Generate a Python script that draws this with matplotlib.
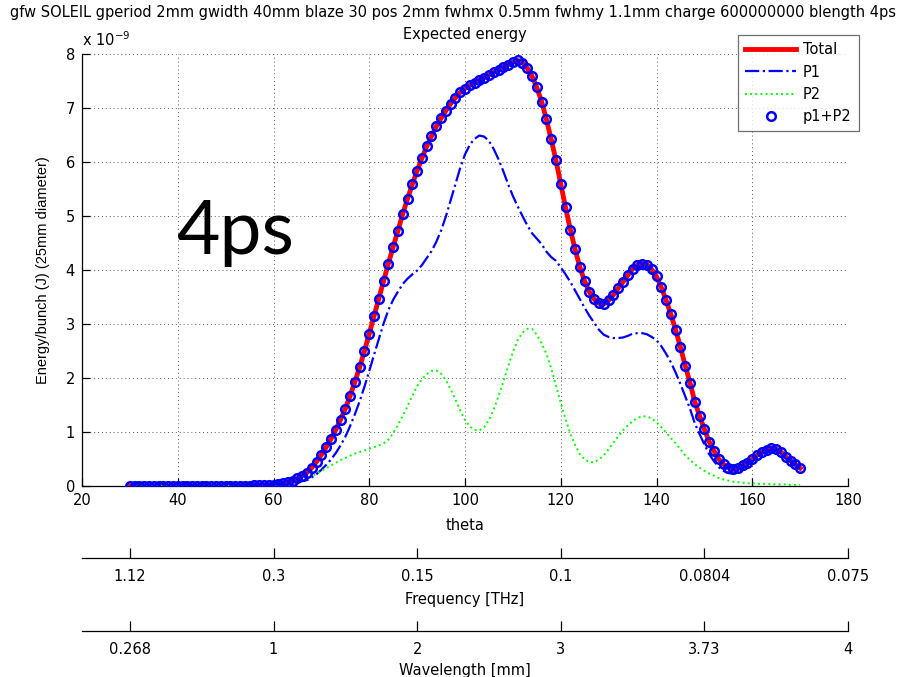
import numpy as np
import matplotlib
matplotlib.use("Agg")
import matplotlib.pyplot as plt

plt.rcParams['font.family'] = ['DejaVu Sans']

# Observation angle (degrees), one sample per degree
theta = np.arange(30, 171)

# Expected energy per bunch, in units of 1e-9 J
total = [
    0.0, 0.0, 0.0, 0.0, 0.0, 0.0, 0.0, 0.0, 0.0, 0.0,               # 30-39
    0.0, 0.0, 0.0, 0.0, 0.0, 0.0, 0.0, 0.0, 0.0, 0.0,               # 40-49
    0.002, 0.003, 0.004, 0.005, 0.006, 0.008, 0.010, 0.013, 0.016, 0.020,  # 50-59
    0.025, 0.035, 0.05, 0.07, 0.10, 0.14, 0.19, 0.25, 0.34, 0.45,   # 60-69
    0.58, 0.72, 0.87, 1.04, 1.23, 1.43, 1.67, 1.93, 2.20, 2.50,     # 70-79
    2.82, 3.15, 3.47, 3.80, 4.12, 4.43, 4.73, 5.04, 5.32, 5.59,     # 80-89
    5.84, 6.07, 6.29, 6.48, 6.66, 6.81, 6.95, 7.08, 7.19, 7.29,     # 90-99
    7.36, 7.42, 7.47, 7.52, 7.56, 7.61, 7.66, 7.71, 7.76, 7.80,     # 100-109
    7.85, 7.88, 7.84, 7.74, 7.59, 7.38, 7.12, 6.79, 6.42, 6.03,     # 110-119
    5.59, 5.16, 4.75, 4.38, 4.05, 3.79, 3.59, 3.46, 3.38, 3.37,     # 120-129
    3.44, 3.54, 3.66, 3.78, 3.90, 4.02, 4.09, 4.12, 4.10, 4.01,     # 130-139
    3.88, 3.68, 3.44, 3.18, 2.89, 2.57, 2.23, 1.91, 1.56, 1.30,     # 140-149
    1.05, 0.82, 0.65, 0.50, 0.40, 0.34, 0.31, 0.33, 0.38, 0.43,     # 150-159
    0.50, 0.57, 0.63, 0.67, 0.70, 0.69, 0.63, 0.54, 0.47, 0.40,     # 160-169
    0.33,                                                           # 170
]

p1 = [
    0.0, 0.0, 0.0, 0.0, 0.0, 0.0, 0.0, 0.0, 0.0, 0.0,
    0.0, 0.0, 0.0, 0.0, 0.0, 0.0, 0.0, 0.0, 0.0, 0.0,
    0.002, 0.003, 0.004, 0.005, 0.006, 0.008, 0.010, 0.013, 0.016, 0.020,
    0.025, 0.035, 0.04, 0.05, 0.06, 0.07, 0.09, 0.11, 0.16, 0.22,
    0.30, 0.39, 0.49, 0.61, 0.75, 0.91, 1.11, 1.33, 1.57, 1.84,
    2.13, 2.43, 2.72, 3.01, 3.26, 3.45, 3.60, 3.74, 3.84, 3.92,
    3.99, 4.09, 4.22, 4.35, 4.52, 4.73, 4.99, 5.29, 5.59, 5.89,
    6.14, 6.32, 6.43, 6.49, 6.47, 6.39, 6.24, 6.05, 5.83, 5.59,
    5.37, 5.18, 5.00, 4.83, 4.68, 4.58, 4.48, 4.34, 4.24, 4.17,
    4.05, 3.92, 3.78, 3.62, 3.46, 3.30, 3.15, 3.02, 2.89, 2.80,
    2.76, 2.74, 2.74, 2.75, 2.78, 2.82, 2.83, 2.83, 2.81, 2.76,
    2.70, 2.59, 2.45, 2.29, 2.10, 1.89, 1.66, 1.43, 1.16, 0.96,
    0.77, 0.59, 0.46, 0.35, 0.28, 0.24, 0.23, 0.26, 0.32, 0.38,
    0.45, 0.53, 0.59, 0.63, 0.67, 0.66, 0.60, 0.51, 0.45, 0.38,
    0.31,
]

p2 = [
    0.0, 0.0, 0.0, 0.0, 0.0, 0.0, 0.0, 0.0, 0.0, 0.0,
    0.0, 0.0, 0.0, 0.0, 0.0, 0.0, 0.0, 0.0, 0.0, 0.0,
    0.0, 0.0, 0.0, 0.0, 0.0, 0.0, 0.0, 0.0, 0.0, 0.0,
    0.0, 0.0, 0.01, 0.02, 0.04, 0.07, 0.10, 0.14, 0.18, 0.23,
    0.28, 0.33, 0.38, 0.43, 0.48, 0.52, 0.56, 0.60, 0.63, 0.66,
    0.69, 0.72, 0.75, 0.79, 0.86, 0.98, 1.13, 1.30, 1.48, 1.67,
    1.85, 1.98, 2.07, 2.13, 2.14, 2.08, 1.96, 1.79, 1.60, 1.40,
    1.22, 1.10, 1.04, 1.03, 1.09, 1.22, 1.42, 1.66, 1.93, 2.21,
    2.48, 2.70, 2.84, 2.91, 2.91, 2.80, 2.64, 2.45, 2.18, 1.86,
    1.54, 1.24, 0.97, 0.76, 0.59, 0.49, 0.44, 0.44, 0.49, 0.57,
    0.68, 0.80, 0.92, 1.03, 1.12, 1.20, 1.26, 1.29, 1.29, 1.25,
    1.18, 1.09, 0.99, 0.89, 0.79, 0.68, 0.57, 0.48, 0.40, 0.34,
    0.28, 0.23, 0.19, 0.15, 0.12, 0.10, 0.08, 0.07, 0.06, 0.05,
    0.05, 0.04, 0.04, 0.04, 0.03, 0.03, 0.03, 0.03, 0.02, 0.02,
    0.02,
]

scale = 1e-9
total_j = np.array(total) * scale
p1_j = np.array(p1) * scale
p2_j = np.array(p2) * scale

# Secondary scales: angle -> frequency / wavelength
sec_ticks = [30, 60, 90, 120, 150, 180]
freq_labels = ['1.12', '0.3', '0.15', '0.1', '0.0804', '0.075']
wave_labels = ['0.268', '1', '2', '3', '3.73', '4']

FS = 10.5
W, H = 904, 677
fig = plt.figure(figsize=(W / 100, H / 100), dpi=100)

L, R, T, B = 82, 848, 54, 486
ax = fig.add_axes([L / W, 1 - B / H, (R - L) / W, (B - T) / H])

ax.plot(theta, total_j, color=(1, 0, 0), lw=3.5, label='Total', zorder=3)
ax.plot(theta, p1_j, color=(0, 0, 1), lw=1.6, ls='-.', label='P1', zorder=4)
ax.plot(theta, p2_j, color=(0, 1, 0), lw=1.4, ls=':', label='P2', zorder=4)
ax.plot(theta, p1_j + p2_j, ls='none', marker='o', ms=6.2, mfc='none',
        mec=(0, 0, 1), mew=1.8, label='p1+P2', zorder=5)

ax.set_xlim(20, 180)
ax.set_ylim(0, 8e-9)
ax.set_xticks(np.arange(20, 181, 20))
ax.set_yticks(np.arange(0, 9) * 1e-9)
ax.set_yticklabels([str(i) for i in range(9)])
ax.grid(True, color='0.35', linestyle=(0, (1, 3)), linewidth=0.7)
for s in ('top', 'right'):
    ax.spines[s].set_visible(False)
for s in ('left', 'bottom'):
    ax.spines[s].set_linewidth(0.9)
ax.tick_params(direction='in', length=5.5, width=0.9, labelsize=FS, pad=5)

ax.set_xlabel('theta', fontsize=FS, labelpad=7)
ax.set_ylabel('Energy/bunch (J) (25mm diameter)', fontsize=FS, labelpad=11,
              family=['Liberation Sans', 'DejaVu Sans'])

ax.text(0.0, 1.012, r'x 10$^{\mathregular{-9}}$', transform=ax.transAxes,
        fontsize=FS, ha='left', va='bottom')

fig.text(453 / W, 1 - 13 / H,
         'gfw SOLEIL gperiod 2mm gwidth 40mm blaze 30 pos 2mm fwhmx 0.5mm '
         'fwhmy 1.1mm charge 600000000 blength 4ps',
         fontsize=FS, ha='center', va='center')
fig.text(465 / W, 1 - 35 / H, 'Expected energy', fontsize=FS,
         ha='center', va='center')

fig.text(176 / W, 1 - 254 / H, '4ps', fontsize=54,
         family=['Lato', 'DejaVu Sans'], ha='left', va='baseline', zorder=6)

leg = fig.legend(loc='upper left', bbox_to_anchor=(738 / W, 1 - 35 / H),
                 fontsize=FS, frameon=True, fancybox=False, edgecolor='0.3',
                 handlelength=3.5, handletextpad=0.45, borderpad=0.5,
                 labelspacing=0.5, borderaxespad=0)
leg.get_frame().set_linewidth(0.9)

# Extra axis scales drawn as bare horizontal rulers below the plot
for y_line, labels, title, lpad in ((558, freq_labels, 'Frequency [THz]', 6),
                                    (631, wave_labels, 'Wavelength [mm]', 4)):
    sax = fig.add_axes([L / W, 1 - y_line / H, (R - L) / W, 0.0001])
    sax.set_xlim(20, 180)
    sax.set_yticks([])
    for s in ('top', 'left', 'right'):
        sax.spines[s].set_visible(False)
    sax.spines['bottom'].set_linewidth(0.9)
    sax.set_xticks(sec_ticks)
    sax.set_xticklabels(labels)
    sax.tick_params(axis='x', direction='in', length=7, width=0.9,
                    labelsize=FS, pad=8)
    sax.set_xlabel(title, fontsize=FS, labelpad=lpad)
    sax.patch.set_visible(False)

fig.savefig('out.png', dpi=100)
